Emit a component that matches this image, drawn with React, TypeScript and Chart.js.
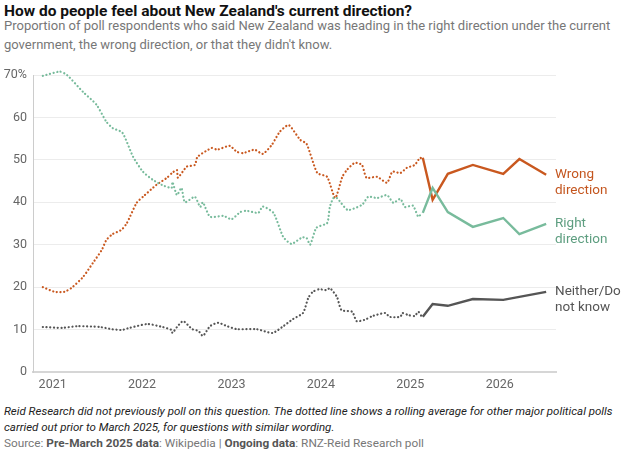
import { useEffect, useRef } from 'react';
import Chart from 'chart.js/auto';

// dates are decimal years
const yearTicks = [2021, 2022, 2023, 2024, 2025, 2026];

// rolling average of other polls, before March 2025 (dotted)
const rightAvgDates = [2020.89, 2021.08, 2021.16, 2021.34, 2021.49, 2021.6, 2021.67, 2021.78, 2021.9, 2022.01, 2022.12, 2022.23, 2022.33, 2022.34, 2022.39, 2022.44, 2022.48, 2022.59, 2022.65, 2022.68, 2022.76, 2022.91, 2023.0, 2023.1, 2023.17, 2023.3, 2023.35, 2023.47, 2023.58, 2023.67, 2023.79, 2023.84, 2023.88, 2023.95, 2024.07, 2024.1, 2024.14, 2024.18, 2024.3, 2024.46, 2024.53, 2024.63, 2024.74, 2024.81, 2024.89, 2024.94, 2025.03, 2025.09, 2025.13];
const rightAvg = [69.8, 70.8, 70, 66, 63, 59, 57.5, 56.4, 50.7, 47.2, 45.3, 44, 43.4, 44.8, 41.7, 43.4, 40, 41.3, 38.9, 40, 36.6, 36.8, 36, 37.7, 38, 37.5, 39, 37.5, 31.8, 30.2, 31.7, 31.6, 30, 34, 35.1, 38.9, 41, 41, 38.2, 39.4, 41.3, 41, 41.7, 39.9, 40.8, 38.9, 39.2, 36.6, 37.5];

const wrongAvgDates = [2020.89, 2021.02, 2021.13, 2021.21, 2021.34, 2021.45, 2021.55, 2021.6, 2021.67, 2021.77, 2021.83, 2021.94, 2022.01, 2022.16, 2022.28, 2022.34, 2022.39, 2022.4, 2022.5, 2022.59, 2022.62, 2022.78, 2022.84, 2022.98, 2023.06, 2023.13, 2023.26, 2023.35, 2023.45, 2023.54, 2023.64, 2023.77, 2023.84, 2023.96, 2024.07, 2024.16, 2024.24, 2024.29, 2024.38, 2024.46, 2024.51, 2024.63, 2024.74, 2024.8, 2024.89, 2024.96, 2025.05, 2025.11, 2025.14];
const wrongAvg = [20, 18.9, 18.9, 19.8, 22.4, 25.7, 28.8, 31.1, 32.5, 33.5, 35.1, 39.9, 41.3, 44.1, 45.8, 47, 47.6, 45.8, 48.4, 48.8, 50.7, 52.8, 52.4, 53.3, 51.9, 51.6, 52.4, 51.4, 53.5, 56.6, 58.2, 54.7, 53.8, 46.9, 46, 41, 46, 47.6, 49.3, 48.8, 45.8, 46, 44.6, 47.2, 46.9, 48.1, 48.8, 50.5, 50];

const neitherAvgDates = [2020.89, 2021.11, 2021.28, 2021.53, 2021.66, 2021.77, 2021.86, 2022.06, 2022.23, 2022.33, 2022.34, 2022.39, 2022.46, 2022.56, 2022.63, 2022.68, 2022.76, 2022.85, 2022.95, 2023.06, 2023.28, 2023.46, 2023.58, 2023.69, 2023.8, 2023.86, 2023.91, 2023.98, 2024.07, 2024.1, 2024.18, 2024.23, 2024.35, 2024.4, 2024.49, 2024.58, 2024.72, 2024.77, 2024.89, 2024.91, 2024.98, 2025.05, 2025.09, 2025.13];
const neitherAvg = [10.6, 10.4, 10.8, 10.6, 10.1, 9.9, 10.4, 11.3, 10.6, 9.9, 9.2, 10.6, 12, 10.1, 9.7, 8.5, 10.8, 11.6, 10.8, 10.1, 10.1, 9.2, 10.8, 12.5, 13.9, 17.5, 18.9, 19.5, 19.3, 19.8, 17.7, 14.6, 14.2, 12, 12.3, 13.2, 13.9, 13, 13, 13.9, 13.4, 13.2, 14.2, 13];

// RNZ-Reid Research poll (solid)
const reidDates = [2025.14, 2025.25, 2025.42, 2025.7, 2026.04, 2026.22, 2026.52];
const reidRight = [37.5, 43.4, 37.7, 34.2, 36.3, 32.5, 34.9];
const reidWrong = [50.5, 40.6, 46.7, 48.8, 46.7, 50.2, 46.5];
const neitherDates = [2025.14, 2025.25, 2025.42, 2025.7, 2026.04, 2026.52];
const reidNeither = [13, 16, 15.6, 17.2, 17, 18.9];

const ORANGE = '#c9581f';
const GREEN = '#78bb9c';
const GRAY = '#555555';
const FONT = 'Roboto, sans-serif';

const zip = (xs: number[], ys: number[]) => xs.map((x, i) => ({ x, y: ys[i] }));

const dotted = {
  borderWidth: 2.2,
  borderDash: [0.1, 3.6],
  borderCapStyle: 'round' as const,
  pointRadius: 0,
  tension: 0.2,
  clip: 6,
};
const solid = { borderWidth: 2.4, pointRadius: 0, tension: 0, clip: 6 };

const endLabels = [
  { lines: ['Wrong', 'direction'], color: '#c4561f', value: reidWrong[reidWrong.length - 1] },
  { lines: ['Right', 'direction'], color: '#5e9e80', value: reidRight[reidRight.length - 1] },
  { lines: ['Neither/Do', 'not know'], color: '#555555', value: reidNeither[reidNeither.length - 1] },
];

const endLabelPlugin = {
  id: 'endLabels',
  afterDraw(chart: any) {
    const { ctx, chartArea, scales } = chart;
    ctx.save();
    ctx.font = `13.5px ${FONT}`;
    ctx.textBaseline = 'middle';
    ctx.textAlign = 'left';
    endLabels.forEach(l => {
      const y = scales.y.getPixelForValue(l.value);
      ctx.fillStyle = l.color;
      l.lines.forEach((t, i) => ctx.fillText(t, chartArea.right - 1, y + i * 15.5));
    });
    ctx.restore();
  },
};

export default function App() {
  const canvasRef = useRef<HTMLCanvasElement>(null);
  const chartRef = useRef<Chart | null>(null);

  useEffect(() => {
    document.body.style.margin = '0';
    if (!canvasRef.current) return;
    if (chartRef.current) chartRef.current.destroy();

    chartRef.current = new Chart(canvasRef.current, {
      type: 'line',
      data: {
        datasets: [
          { data: zip(neitherAvgDates, neitherAvg), borderColor: GRAY, ...dotted },
          { data: zip(rightAvgDates, rightAvg), borderColor: GREEN, ...dotted },
          { data: zip(wrongAvgDates, wrongAvg), borderColor: ORANGE, ...dotted },
          { data: zip(neitherDates, reidNeither), borderColor: GRAY, ...solid },
          { data: zip(reidDates, reidRight), borderColor: GREEN, ...solid },
          { data: zip(reidDates, reidWrong), borderColor: ORANGE, ...solid },
        ],
      },
      options: {
        animation: false,
        responsive: true,
        maintainAspectRatio: false,
        layout: { padding: { top: 15, right: 66, left: 0, bottom: 0 } },
        plugins: { legend: { display: false }, tooltip: { enabled: false } },
        scales: {
          x: {
            type: 'linear',
            min: 2020.78,
            max: 2026.63,
            afterBuildTicks: (scale: any) => {
              scale.ticks = yearTicks.map(v => ({ value: v }));
            },
            afterFit: (scale: any) => {
              scale.height = 23;
            },
            grid: { display: false, drawTicks: false },
            border: { color: '#d6d6d6', width: 2 },
            ticks: {
              color: '#666',
              font: { size: 12.5, family: FONT },
              padding: 5,
              maxRotation: 0,
              callback: (v: any) => String(v),
            },
          },
          y: {
            min: 0,
            max: 70,
            afterFit: (scale: any) => {
              scale.width = 33;
            },
            grid: { color: '#ececec', drawTicks: false },
            border: { color: '#cccccc', width: 1 },
            ticks: {
              stepSize: 10,
              color: '#666',
              font: { size: 12.5, family: FONT },
              padding: 6,
              callback: (v: any) => (v === 70 ? '70%' : String(v)),
            },
          },
        },
      },
      plugins: [endLabelPlugin],
    });

    return () => {
      if (chartRef.current) {
        chartRef.current.destroy();
        chartRef.current = null;
      }
    };
  }, []);

  return (
    <div style={{ position: 'relative', width: 622, height: 454, fontFamily: FONT, background: '#fff' }}>
      <div style={{ position: 'absolute', left: 4, top: 2, fontSize: 15.5, fontWeight: 700, color: '#111' }}>
        How do people feel about New Zealand's current direction?
      </div>
      <div style={{ position: 'absolute', left: 4, top: 16, width: 618, fontSize: 13, lineHeight: '19px', color: '#777' }}>
        Proportion of poll respondents who said New Zealand was heading in the right direction under the current government, the wrong direction, or that they didn't know.
      </div>
      <div style={{ position: 'absolute', left: 0, top: 60, width: 622, height: 335 }}>
        <canvas ref={canvasRef} />
      </div>
      <div style={{ position: 'absolute', left: 4, top: 403, width: 616, fontSize: 11.5, lineHeight: '16px', fontStyle: 'italic', color: '#222' }}>
        Reid Research did not previously poll on this question. The dotted line shows a rolling average for other major political polls carried out prior to March 2025, for questions with similar wording.
      </div>
      <div style={{ position: 'absolute', left: 4, top: 436, fontSize: 11.8, color: '#777' }}>
        Source: <b style={{ color: '#555' }}>Pre-March 2025 data</b>: Wikipedia | <b style={{ color: '#555' }}>Ongoing data</b>: RNZ-Reid Research poll
      </div>
    </div>
  );
}
